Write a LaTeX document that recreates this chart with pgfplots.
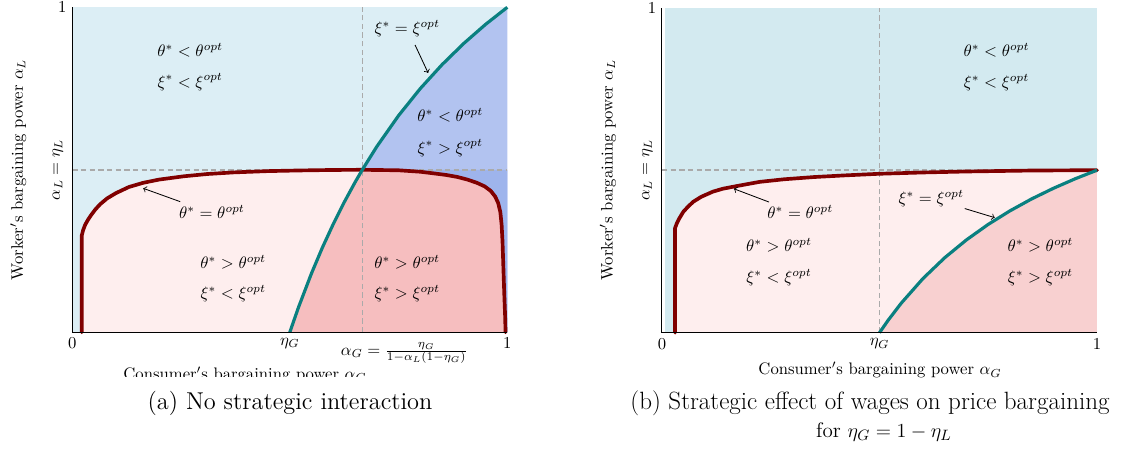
\documentclass[border=0pt]{standalone}
\usepackage{pgfplots}
\pgfplotsset{compat=1.18}
\definecolor{bgL}{HTML}{DCEEF5}
\definecolor{bgR}{HTML}{D3EAF0}
\definecolor{lpink}{HTML}{FEEEEE}
\definecolor{pinkL}{HTML}{F6BEBF}
\definecolor{pinkR}{HTML}{F8D0D0}
\definecolor{blueL}{HTML}{B2C3F0}
\definecolor{blueD}{HTML}{9EB4EC}
\definecolor{redc}{HTML}{800000}
\definecolor{tealc}{HTML}{0A8080}
\definecolor{dashc}{HTML}{AAAAAA}
\pgfplotsset{
  panel/.style={
    scale only axis, width=261pt, height=195pt,
    xmin=0, xmax=1, ymin=0, ymax=1,
    axis x line*=bottom, axis y line*=left,
    axis line style={black, line width=0.6pt},
    xtick={0,0.5,1}, xticklabels={$0$,$\eta_G$,$1$},
    ytick={1}, yticklabels={$1$},
    tick style={draw=none},
    clip=false, axis on top,
  },
  redline/.style={redc, line width=2.2pt, line join=round, line cap=round},
  tealline/.style={tealc, line width=1.9pt, line join=round},
  dline/.style={dashc, line width=0.9pt, dash pattern=on 3.2pt off 2pt},
}
\begin{document}
\begin{tikzpicture}[x=0.6pt,y=0.6pt]
\useasboundingbox (0,0) rectangle (1133,452);
% ---------------- Panel (a)
\begin{axis}[panel, at={(43.38pt,71.82pt)}, anchor=south west]
\addplot[fill=bgL, draw=none] coordinates {(0,0)(1,0)(1,1)(0,1)} -- cycle;
\addplot[fill=blueL, draw=none] coordinates {(0.5,0)(0.52,0.0769)(0.55,0.1818)(0.575,0.2609)(0.6,0.3333)(0.625,0.4)(0.65,0.4615)(0.6667,0.5)(0.7,0.5714)(0.75,0.6667)(0.8,0.75)(0.85,0.8235)(0.9,0.8889)(0.95,0.9474)(1,1)(1,0)} -- cycle;
\addplot[fill=blueD, draw=none] coordinates {(0.5,0)(0.52,0.0769)(0.55,0.1818)(0.575,0.2609)(0.6,0.3333)(0.625,0.4)(0.65,0.4615)(0.6667,0.5)(1,0.5)(1,0)} -- cycle;
\addplot[fill=lpink, draw=none] coordinates {(0.0216,0)(0.0216,0.297)(0.025,0.315)(0.03,0.332)(0.036,0.346)(0.044,0.362)(0.053,0.378)(0.064,0.394)(0.08,0.412)(0.1,0.428)(0.13,0.447)(0.163,0.46)(0.2,0.47)(0.256,0.48)(0.31,0.487)(0.371,0.492)(0.45,0.496)(0.524,0.498)(0.6,0.4995)(0.6667,0.5)(0.75,0.4985)(0.8,0.494)(0.831,0.489)(0.86,0.484)(0.885,0.478)(0.908,0.47)(0.93,0.46)(0.948,0.449)(0.962,0.435)(0.972,0.418)(0.979,0.398)(0.984,0.37)(0.987,0.33)(0.989,0.28)(0.991,0.2)(0.993,0.12)(0.995,0.05)(0.996,0)} -- cycle;
\addplot[fill=pinkL, draw=none] coordinates {(0.5,0)(0.52,0.0769)(0.55,0.1818)(0.575,0.2609)(0.6,0.3333)(0.625,0.4)(0.65,0.4615)(0.6667,0.5)(0.75,0.4985)(0.8,0.494)(0.831,0.489)(0.86,0.484)(0.885,0.478)(0.908,0.47)(0.93,0.46)(0.948,0.449)(0.962,0.435)(0.972,0.418)(0.979,0.398)(0.984,0.37)(0.987,0.33)(0.989,0.28)(0.991,0.2)(0.993,0.12)(0.995,0.05)(0.996,0)} -- cycle;
\addplot[dline] coordinates {(0,0.5)(1,0.5)};
\addplot[dline] coordinates {(0.6667,0)(0.6667,1)};
\addplot[redline] coordinates {(0.0216,0)(0.0216,0.297)(0.025,0.315)(0.03,0.332)(0.036,0.346)(0.044,0.362)(0.053,0.378)(0.064,0.394)(0.08,0.412)(0.1,0.428)(0.13,0.447)(0.163,0.46)(0.2,0.47)(0.256,0.48)(0.31,0.487)(0.371,0.492)(0.45,0.496)(0.524,0.498)(0.6,0.4995)(0.6667,0.5)(0.75,0.4985)(0.8,0.494)(0.831,0.489)(0.86,0.484)(0.885,0.478)(0.908,0.47)(0.93,0.46)(0.948,0.449)(0.962,0.435)(0.972,0.418)(0.979,0.398)(0.984,0.37)(0.987,0.33)(0.989,0.28)(0.991,0.2)(0.993,0.12)(0.995,0.05)(0.996,0)};
\addplot[tealline] coordinates {(0.5,0)(0.52,0.0769)(0.55,0.1818)(0.575,0.2609)(0.6,0.3333)(0.625,0.4)(0.65,0.4615)(0.6667,0.5)(0.7,0.5714)(0.75,0.6667)(0.8,0.75)(0.85,0.8235)(0.9,0.8889)(0.95,0.9474)(1,1)};
\node at (axis cs:0.271,0.869) {$\theta^* < \theta^{opt}$};
\node at (axis cs:0.271,0.77) {$\xi^* < \xi^{opt}$};
\node at (axis cs:0.77,0.936) {$\xi^* = \xi^{opt}$};
\draw[->, line width=0.5pt] (axis cs:0.788,0.884) -- (axis cs:0.818,0.798);
\node at (axis cs:0.869,0.668) {$\theta^* < \theta^{opt}$};
\node at (axis cs:0.869,0.567) {$\xi^* > \xi^{opt}$};
\node at (axis cs:0.321,0.37) {$\theta^* = \theta^{opt}$};
\draw[->, line width=0.5pt] (axis cs:0.248,0.402) -- (axis cs:0.163,0.443);
\node at (axis cs:0.37,0.217) {$\theta^* > \theta^{opt}$};
\node at (axis cs:0.37,0.12) {$\xi^* < \xi^{opt}$};
\node at (axis cs:0.77,0.217) {$\theta^* > \theta^{opt}$};
\node at (axis cs:0.77,0.12) {$\xi^* > \xi^{opt}$};
\node[rotate=90] at ([xshift=-8.6pt]axis cs:0,0.5) {$\alpha_L = \eta_L$};
\node[rotate=90] at ([xshift=-32.4pt]axis cs:0,0.5) {Worker$'$s bargaining power $\alpha_L$};
\node at ([yshift=-12.6pt]axis cs:0.763,0) {$\alpha_G = \frac{\eta_G}{1-\alpha_L(1-\eta_G)}$};
\end{axis}
% ---------------- Panel (b)
\begin{axis}[panel, at={(397.2pt,71.58pt)}, anchor=south west]
\addplot[fill=bgR, draw=none] coordinates {(0.008,0)(1,0)(1,1)(0.008,1)} -- cycle;
\addplot[fill=lpink, draw=none] coordinates {(0.03,0)(0.03,0.322)(0.034,0.336)(0.04,0.352)(0.049,0.372)(0.06,0.388)(0.072,0.403)(0.09,0.418)(0.117,0.434)(0.14,0.443)(0.171,0.451)(0.224,0.464)(0.28,0.472)(0.35,0.479)(0.42,0.484)(0.5,0.489)(0.6,0.493)(0.7,0.496)(0.85,0.499)(1,0.5)(1,0)} -- cycle;
\addplot[fill=pinkR, draw=none] coordinates {(0.5,0)(0.52,0.0385)(0.55,0.0909)(0.6,0.1667)(0.65,0.2308)(0.7,0.2857)(0.75,0.3333)(0.8,0.375)(0.85,0.4118)(0.9,0.4444)(0.95,0.4737)(1,0.5)(1,0)} -- cycle;
\addplot[dline] coordinates {(0,0.5)(1,0.5)};
\addplot[dline] coordinates {(0.5,0)(0.5,1)};
\addplot[redline] coordinates {(0.03,0)(0.03,0.322)(0.034,0.336)(0.04,0.352)(0.049,0.372)(0.06,0.388)(0.072,0.403)(0.09,0.418)(0.117,0.434)(0.14,0.443)(0.171,0.451)(0.224,0.464)(0.28,0.472)(0.35,0.479)(0.42,0.484)(0.5,0.489)(0.6,0.493)(0.7,0.496)(0.85,0.499)(1,0.5)};
\addplot[tealline] coordinates {(0.5,0)(0.52,0.0385)(0.55,0.0909)(0.6,0.1667)(0.65,0.2308)(0.7,0.2857)(0.75,0.3333)(0.8,0.375)(0.85,0.4118)(0.9,0.4444)(0.95,0.4737)(1,0.5)};
\node at (axis cs:0.769,0.869) {$\theta^* < \theta^{opt}$};
\node at (axis cs:0.769,0.771) {$\xi^* < \xi^{opt}$};
\node at (axis cs:0.318,0.371) {$\theta^* = \theta^{opt}$};
\draw[->, line width=0.5pt] (axis cs:0.246,0.402) -- (axis cs:0.165,0.443);
\node at (axis cs:0.619,0.412) {$\xi^* = \xi^{opt}$};
\draw[->, line width=0.5pt] (axis cs:0.696,0.382) -- (axis cs:0.765,0.354);
\node at (axis cs:0.269,0.269) {$\theta^* > \theta^{opt}$};
\node at (axis cs:0.269,0.171) {$\xi^* < \xi^{opt}$};
\node at (axis cs:0.87,0.269) {$\theta^* > \theta^{opt}$};
\node at (axis cs:0.87,0.171) {$\xi^* > \xi^{opt}$};
\node[rotate=90] at ([xshift=-8.8pt]axis cs:0,0.5) {$\alpha_L = \eta_L$};
\node[rotate=90] at ([xshift=-32.4pt]axis cs:0,0.5) {Worker$'$s bargaining power $\alpha_L$};
\end{axis}
% x labels
\node[anchor=base] at (245,72.5) {Consumer$'$s bargaining power $\alpha_G$};
\fill[white] (100,60) rectangle (400,74.5);
\node[anchor=base] at (880,77) {Consumer$'$s bargaining power $\alpha_G$};
% captions
\node[font=\fontsize{14.6}{17}\selectfont] at (290,49) {(a) No strategic interaction};
\node[font=\fontsize{15}{18}\selectfont] at (870,49) {(b) Strategic effect of wages on price bargaining};
\node[font=\fontsize{12.6}{16}\selectfont] at (884,20) {for $\eta_G = 1-\eta_L$};
\end{tikzpicture}
\end{document}
